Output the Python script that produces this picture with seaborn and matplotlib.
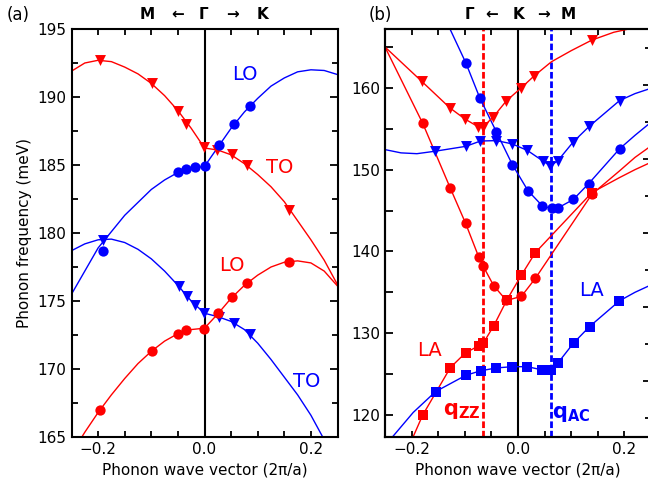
import numpy as np
import matplotlib
matplotlib.use("Agg")
import matplotlib.pyplot as plt
import seaborn as sns
from matplotlib.ticker import MultipleLocator, NullFormatter

# ---------------- panel (a): markers ----------------
a_red_to_q = [-0.196, -0.098, -0.050, -0.034, -0.001, 0.024, 0.051, 0.079, 0.158]
a_red_to_e = [192.7, 191.0, 189.0, 188.0, 186.3, 186.1, 185.8, 185.0, 181.7]
a_blue_lo_q = [-0.19, -0.049, -0.034, -0.017, 0.0, 0.028, 0.056, 0.085]
a_blue_lo_e = [178.7, 184.47, 184.67, 184.87, 184.91, 186.5, 188.03, 189.37]
a_blue_to_q = [-0.19, -0.048, -0.032, -0.017, -0.001, 0.028, 0.056, 0.085]
a_blue_to_e = [179.5, 176.1, 175.4, 174.67, 174.13, 173.81, 173.4, 172.54]
a_red_lo_q = [-0.196, -0.098, -0.05, -0.034, -0.001, 0.026, 0.052, 0.079, 0.158]
a_red_lo_e = [167.02, 171.36, 172.61, 172.85, 172.96, 174.13, 175.28, 176.29, 177.85]

# panel (a): fitted curves
a_blue_lo_cq = [-0.25, -0.2, -0.15, -0.1, -0.075, -0.05, -0.025, 0, 0.025, 0.05,
                0.075, 0.1, 0.125, 0.15, 0.175, 0.2, 0.225, 0.25]
a_blue_lo_ce = [175.5, 178.9, 181.3, 183.2, 183.9, 184.45, 184.75, 184.9, 186.3, 187.7,
                188.9, 189.9, 190.8, 191.4, 191.85, 192.0, 191.95, 191.65]
a_red_to_cq = [-0.25, -0.225, -0.2, -0.175, -0.15, -0.125, -0.1, -0.075, -0.05, -0.025, 0,
               0.025, 0.05, 0.075, 0.1, 0.125, 0.15, 0.175, 0.2, 0.225, 0.25]
a_red_to_ce = [191.9, 192.5, 192.7, 192.6, 192.2, 191.7, 191.0, 190.1, 189.0, 187.7, 186.25,
               186.1, 185.75, 185.1, 184.3, 183.4, 182.3, 180.9, 179.5, 178.0, 176.2]
a_blue_to_cq = [-0.25, -0.225, -0.2, -0.175, -0.15, -0.125, -0.1, -0.075, -0.05, -0.025, 0,
                0.025, 0.05, 0.075, 0.1, 0.125, 0.15, 0.175, 0.2, 0.225, 0.24]
a_blue_to_ce = [178.7, 179.2, 179.5, 179.55, 179.3, 178.8, 178.1, 177.2, 176.15, 175.0, 174.1,
                173.85, 173.5, 172.9, 171.9, 170.7, 169.4, 168.1, 166.6, 164.8, 163.6]
a_red_lo_cq = [-0.24, -0.225, -0.2, -0.175, -0.15, -0.125, -0.1, -0.075, -0.05, -0.025, 0,
               0.025, 0.05, 0.075, 0.1, 0.125, 0.15, 0.175, 0.2, 0.225, 0.25]
a_red_lo_ce = [164.4, 165.35, 166.8, 168.1, 169.3, 170.4, 171.3, 172.05, 172.6, 172.9, 173.0,
               174.05, 175.2, 176.15, 176.9, 177.5, 177.85, 177.95, 177.8, 177.2, 176.1]

# ---------------- panel (b): markers ----------------
b_blue_c_q = [-0.098, -0.072, -0.0405, -0.0105, 0.019, 0.046, 0.063, 0.076, 0.104, 0.133, 0.191]
b_blue_c_e = [163.05, 158.8, 154.6, 150.6, 147.4, 145.55, 145.25, 145.35, 146.35, 148.3, 152.55]
b_blue_t_q = [-0.156, -0.098, -0.0705, -0.0405, -0.011, 0.0176, 0.047, 0.061, 0.075, 0.104, 0.134, 0.191]
b_blue_t_e = [152.25, 152.85, 153.5, 153.55, 153.15, 152.35, 151.05, 150.45, 151.1, 153.4, 155.3, 158.45]
b_red_t_q = [-0.181, -0.128, -0.1, -0.075, -0.0656, -0.047, -0.022, 0.006, 0.031, 0.139]
b_red_t_e = [160.8, 157.55, 156.2, 155.25, 155.25, 156.4, 158.4, 160.0, 161.5, 165.85]
b_red_c_q = [-0.179, -0.127, -0.0986, -0.0737, -0.0656, -0.0456, -0.0218, 0.0064, 0.0326, 0.139]
b_red_c_e = [155.65, 147.7, 143.45, 139.3, 138.2, 135.8, 134.0, 134.5, 136.7, 147.0]
b_red_s_q = [-0.179, -0.127, -0.0986, -0.0737, -0.0656, -0.0456, -0.0206, 0.0064, 0.0326, 0.139]
b_red_s_e = [120.0, 125.8, 127.6, 128.45, 128.75, 130.9, 134.1, 137.1, 139.85, 147.2]
b_blue_s_q = [-0.155, -0.098, -0.07, -0.0405, -0.0105, 0.0176, 0.0458, 0.0613, 0.075, 0.1045, 0.1344, 0.1907]
b_blue_s_e = [122.85, 124.85, 125.4, 125.75, 125.9, 125.9, 125.5, 125.5, 126.35, 128.8, 130.8, 133.95]

# panel (b): curve pieces outside / between the markers
b_blue_c_left = ([-0.13], [167.5])
b_blue_c_right = ([0.22, 0.25], [154.2, 155.8])
b_blue_t_left = ([-0.25, -0.22, -0.19], [152.45, 152.05, 151.95])
b_blue_t_right = ([0.22, 0.25], [159.3, 159.95])
b_red_t_left = ([-0.25], [165.0])
b_red_t_mid = ([0.063, 0.1], [163.2, 164.55])
b_red_t_right = ([0.18, 0.215, 0.25], [166.8, 167.3, 167.9])
b_red_c_left = ([-0.25], [165.0])
b_red_c_right = ([0.19, 0.22, 0.25], [149.8, 151.5, 152.9])
b_red_s_left = ([-0.2], [116.9])
b_red_s_right = ([0.19, 0.22, 0.25], [149.0, 150.0, 150.9])
b_blue_s_left = ([-0.24, -0.197], [117.0, 120.3])
b_blue_s_right = ([0.22, 0.25], [135.0, 135.9])

q_zz = -0.0656
q_ac = 0.0626

RED = "#ff0000"
BLUE = "#0000ff"

sns.set_style("ticks")
plt.rcParams.update({
    "font.family": ["DejaVu Sans"],
    "mathtext.fontset": "dejavusans",
    "text.color": "black",
    "axes.labelcolor": "black",
    "axes.edgecolor": "black",
    "xtick.color": "black",
    "ytick.color": "black",
    "xtick.direction": "in",
    "ytick.direction": "in",
    "axes.linewidth": 1.5,
    "xtick.major.width": 1.3,
    "xtick.minor.width": 1.3,
    "ytick.major.width": 1.3,
    "ytick.minor.width": 1.3,
})

fig = plt.figure(figsize=(6.48, 4.93), dpi=100)
ax1 = fig.add_axes([71.5 / 648, 56 / 493, 266 / 648, 408 / 493])
ax2 = fig.add_axes([385 / 648, 56 / 493, 266 / 648, 408 / 493])

SIZES = {"o": 55, "v": 62, "s": 48}


def curve(ax, q, e, color):
    sns.lineplot(x=q, y=e, ax=ax, color=color, lw=1.0, sort=False, estimator=None, zorder=2)


def pts(ax, q, e, color, marker):
    sns.scatterplot(x=q, y=e, ax=ax, color=color, marker=marker, s=SIZES[marker],
                    linewidth=0, zorder=3)


def joined(parts):
    qs, es = [], []
    for q, e in parts:
        qs += list(q)
        es += list(e)
    return qs, es


# ---- panel (a)
ax1.axvline(0, color="black", lw=1.5, zorder=1)
curve(ax1, a_blue_lo_cq, a_blue_lo_ce, BLUE)
curve(ax1, a_red_to_cq, a_red_to_ce, RED)
curve(ax1, a_blue_to_cq, a_blue_to_ce, BLUE)
curve(ax1, a_red_lo_cq, a_red_lo_ce, RED)
pts(ax1, a_red_to_q, a_red_to_e, RED, "v")
pts(ax1, a_blue_lo_q, a_blue_lo_e, BLUE, "o")
pts(ax1, a_blue_to_q, a_blue_to_e, BLUE, "v")
pts(ax1, a_red_lo_q, a_red_lo_e, RED, "o")

ax1.text(0.075, 191.65, "LO", color=BLUE, fontsize=14, ha="center", va="center")
ax1.text(0.141, 184.84, "TO", color=RED, fontsize=14, ha="center", va="center")
ax1.text(0.052, 177.6, "LO", color=RED, fontsize=14, ha="center", va="center")
ax1.text(0.193, 169.1, "TO", color=BLUE, fontsize=14, ha="center", va="center")

ax1.set_xlim(-0.25, 0.25)
ax1.set_ylim(165, 195)
ax1.xaxis.set_major_locator(MultipleLocator(0.2))
ax1.xaxis.set_minor_locator(MultipleLocator(0.05))
ax1.yaxis.set_major_locator(MultipleLocator(5))
ax1.yaxis.set_minor_locator(MultipleLocator(2.5))
ax1.tick_params(which="both", top=True, right=True, labelsize=11)
ax1.tick_params(axis="x", which="both", length=4.5)
ax1.tick_params(axis="y", which="major", length=6)
ax1.tick_params(axis="y", which="minor", length=4.5)
ax1.set_xlabel("Phonon wave vector (2\u03c0/a)", fontsize=11)
ax1.set_ylabel("Phonon frequency (meV)", fontsize=11)

# ---- panel (b)
ax2.axvline(0, color="black", lw=1.5, zorder=1)
ax2.axvline(q_zz, color=RED, lw=2, ls=(0, (2.4, 1.0)), zorder=1)
ax2.axvline(q_ac, color=BLUE, lw=2, ls=(0, (2.4, 1.0)), zorder=1)

curve(ax2, *joined([b_blue_c_left, (b_blue_c_q, b_blue_c_e), b_blue_c_right]), BLUE)
curve(ax2, *joined([b_blue_t_left, (b_blue_t_q, b_blue_t_e), b_blue_t_right]), BLUE)
curve(ax2, *joined([b_red_t_left, (b_red_t_q[:9], b_red_t_e[:9]), b_red_t_mid,
                    (b_red_t_q[9:], b_red_t_e[9:]), b_red_t_right]), RED)
curve(ax2, *joined([b_red_c_left, (b_red_c_q, b_red_c_e), b_red_c_right]), RED)
curve(ax2, *joined([b_red_s_left, (b_red_s_q, b_red_s_e), b_red_s_right]), RED)
curve(ax2, *joined([b_blue_s_left, (b_blue_s_q, b_blue_s_e), b_blue_s_right]), BLUE)

pts(ax2, b_blue_c_q, b_blue_c_e, BLUE, "o")
pts(ax2, b_blue_t_q, b_blue_t_e, BLUE, "v")
pts(ax2, b_red_t_q, b_red_t_e, RED, "v")
pts(ax2, b_red_c_q, b_red_c_e, RED, "o")
pts(ax2, b_red_s_q, b_red_s_e, RED, "s")
pts(ax2, b_blue_s_q, b_blue_s_e, BLUE, "s")

ax2.text(-0.166, 127.84, "LA", color=RED, fontsize=14, ha="center", va="center")
ax2.text(0.1376, 135.17, "LA", color=BLUE, fontsize=14, ha="center", va="center")
ax2.text(-0.105, 120.5, r"$\mathbf{q_{ZZ}}$", color=RED, fontsize=15, ha="center", va="center")
ax2.text(0.1, 120.1, r"$\mathbf{q_{AC}}$", color=BLUE, fontsize=15, ha="center", va="center")

ax2.set_xlim(-0.25, 0.25)
ax2.set_ylim(117.3, 167.2)
ax2.xaxis.set_major_locator(MultipleLocator(0.2))
ax2.xaxis.set_minor_locator(MultipleLocator(0.05))
ax2.yaxis.set_major_locator(MultipleLocator(10))
ax2.yaxis.set_minor_locator(MultipleLocator(5))
ax2.tick_params(which="both", top=True, right=False, labelsize=11)
ax2.tick_params(axis="x", which="both", length=4.5)
ax2.tick_params(axis="y", which="both", length=6)
ax2.set_xlabel("Phonon wave vector (2\u03c0/a)", fontsize=11)
ax2.set_ylabel("")

# right-hand ticks of panel (b) follow their own scale
ax2r = ax2.twinx()
ax2r.set_ylim(-7.6, 47.54)
ax2r.yaxis.set_major_locator(MultipleLocator(10))
ax2r.yaxis.set_minor_locator(MultipleLocator(5))
ax2r.yaxis.set_major_formatter(NullFormatter())
ax2r.tick_params(axis="y", which="major", length=6, direction="in")
ax2r.tick_params(axis="y", which="minor", length=4, direction="in")

# direction labels above the panels
top_a = [(-0.107, "M"), (-0.051, "\u2190"), (-0.002, "\u0393"), (0.053, "\u2192"), (0.109, "K")]
top_b = [(-0.091, "\u0393"), (-0.05, "\u2190"), (0.0, "K"), (0.047, "\u2192"), (0.094, "M")]
for ax, labels in ((ax1, top_a), (ax2, top_b)):
    for q, s in labels:
        ax.text(q, 1.036, s, transform=ax.get_xaxis_transform(), fontsize=11,
                fontweight="bold", ha="center", va="center")

fig.text(18.5 / 648, 1 - 15 / 493, "(a)", fontsize=12, ha="center", va="center")
fig.text(380 / 648, 1 - 15 / 493, "(b)", fontsize=12, ha="center", va="center")

fig.savefig("out.png", dpi=100)
